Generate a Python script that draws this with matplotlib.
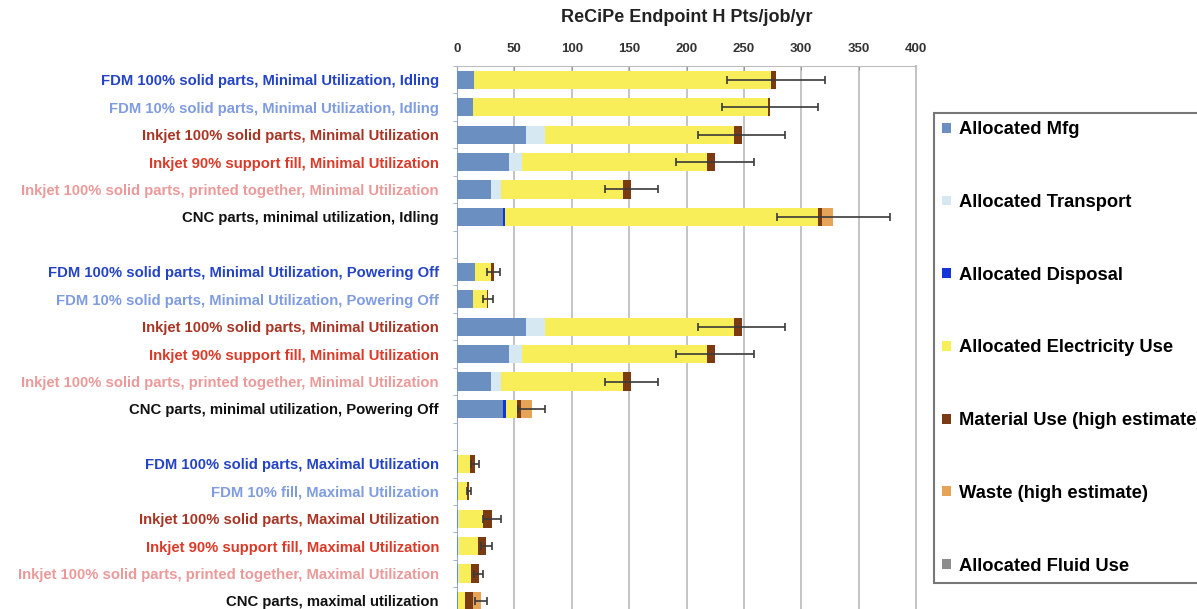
import numpy as np
import matplotlib
matplotlib.use("Agg")
import matplotlib.pyplot as plt
from matplotlib.patches import Patch

plt.rcParams['font.family'] = ['Liberation Sans', 'DejaVu Sans']
plt.rcParams['font.weight'] = 'bold'

# Scenario labels, top to bottom ("" marks the spacer rows between groups)
categories = [
    "FDM 100% solid parts, Minimal Utilization, Idling",
    "FDM 10% solid parts, Minimal Utilization, Idling",
    "Inkjet 100% solid parts, Minimal Utilization",
    "Inkjet 90% support fill, Minimal Utilization",
    "Inkjet 100% solid parts, printed together, Minimal Utilization",
    "CNC parts, minimal utilization, Idling",
    "",
    "FDM 100% solid parts, Minimal Utilization, Powering Off",
    "FDM 10% solid parts, Minimal Utilization, Powering Off",
    "Inkjet 100% solid parts, Minimal Utilization",
    "Inkjet 90% support fill, Minimal Utilization",
    "Inkjet 100% solid parts, printed together, Minimal Utilization",
    "CNC parts, minimal utilization, Powering Off",
    "",
    "FDM 100% solid parts, Maximal Utilization",
    "FDM 10% fill, Maximal Utilization",
    "Inkjet 100% solid parts, Maximal Utilization",
    "Inkjet 90% support fill, Maximal Utilization",
    "Inkjet 100% solid parts, printed together, Maximal Utilization",
    "CNC parts, maximal utilization",
]

# Impact contributions (ReCiPe Endpoint H Pts/job/yr)
mfg         = [15, 14, 60, 45, 30, 40, 0, 16, 14, 60, 45, 30, 40, 0, 0.5, 0.5, 1, 1, 1, 1]
transport   = [0, 0, 17, 12, 8, 0, 0, 0, 0, 17, 12, 8, 0, 0, 0, 0, 0.5, 0.5, 0.5, 0]
disposal    = [0, 0, 0, 0, 0, 2, 0, 0, 0, 0, 0, 0, 3, 0, 0, 0, 0, 0, 0, 0]
electricity = [259, 257, 164, 161, 107, 273, 0, 14, 12, 164, 161, 107, 9, 0, 11, 8, 21, 16.5, 11, 6]
material    = [4, 2, 7, 7, 7, 3, 0, 2, 1, 7, 7, 7, 4, 0, 4, 2, 8, 7.5, 6.5, 7]
waste       = [0, 0, 0, 0, 0, 10, 0, 0, 0, 0, 0, 0, 9, 0, 0, 0, 0, 0, 0, 7]
fluid       = [0] * 20
errors      = [43, 42, 38, 34, 23, 49, None, 5.5, 4.5, 38, 34, 23, 12, None, 3.5, 2, 7.5, 5, 4, 5]

label_colors = ["#2444c4", "#7f9ce0", "#a83424", "#dc3a28", "#eb9a9a", "#111111"]

series = [
    ("Allocated Mfg", mfg, "#6b8fc0"),
    ("Allocated Transport", transport, "#d6e8f2"),
    ("Allocated Disposal", disposal, "#1535d8"),
    ("Allocated Electricity Use", electricity, "#f8ee5a"),
    ("Material Use (high estimate)", material, "#7a3a14"),
    ("Waste (high estimate)", waste, "#e6a458"),
    ("Allocated Fluid Use", fluid, "#8c8c8c"),
]

fig = plt.figure(figsize=(11.97, 6.09), dpi=100)
ax = fig.add_axes([457 / 1197, 1 - 614.7 / 609, (916 - 457) / 1197, (614.7 - 66) / 609])

y = np.arange(len(categories))
left = np.zeros(len(categories))
handles = []
for name, vals, col in series:
    vals = np.array(vals, dtype=float)
    ax.barh(y, vals, left=left, height=0.66, color=col, edgecolor='none', zorder=3)
    left += vals
    handles.append(Patch(facecolor=col, edgecolor='none', label=name))

totals = left
idx = [i for i, e in enumerate(errors) if e is not None]
ax.errorbar(totals[idx], y[idx], xerr=[errors[i] for i in idx], fmt='none',
            ecolor='#3a3a3a', elinewidth=1.2, capsize=3, capthick=1.2, zorder=4)

ax.set_xlim(0, 400)
ax.set_ylim(len(categories) - 0.5, -0.5)

ax.xaxis.tick_top()
ax.set_xticks(np.arange(0, 401, 50))
ax.tick_params(axis='x', direction='in', length=3, color='#999999', pad=8,
               labelsize=9.5, labelcolor='#333333')
for t in ax.get_xticklabels():
    t.set_fontweight('bold')

ylab = [i for i, c in enumerate(categories) if c]
ax.set_yticks(ylab)
ax.set_yticklabels([categories[i] for i in ylab], fontsize=10.75, fontweight='bold')
for k, t in enumerate(ax.get_yticklabels()):
    t.set_color(label_colors[k % 6])
ax.tick_params(axis='y', which='major', length=0, pad=13)
ax.set_yticks(np.arange(-0.5, len(categories), 1), minor=True)
ax.tick_params(axis='y', which='minor', length=3, color='#9aa8c8', direction='out')

ax.grid(axis='x', color='#c4c4c4', linewidth=1.4, zorder=0)
ax.set_axisbelow(True)
ax.spines['bottom'].set_visible(False)
ax.spines['top'].set_color('#bdbdbd')
ax.spines['right'].set_color('#c4c4c4')
ax.spines['right'].set_linewidth(1.4)
ax.spines['left'].set_color('#9aa8c8')

ax.set_title("ReCiPe Endpoint H Pts/job/yr", fontsize=13, fontweight='bold',
             color='#222222', pad=15)

leg = fig.legend(handles=handles, loc='upper left',
                 bbox_to_anchor=(934 / 1197, 1 - 113 / 609), borderaxespad=0,
                 prop={'size': 13.2, 'weight': 'bold'}, handlelength=0.45, handleheight=0.45,
                 handletextpad=0.45, labelspacing=3.04, fancybox=False, frameon=True,
                 borderpad=0.45)
leg.get_frame().set_edgecolor('#555555')
leg.get_frame().set_linewidth(1.5)

fig.savefig("out.png", dpi=100)
